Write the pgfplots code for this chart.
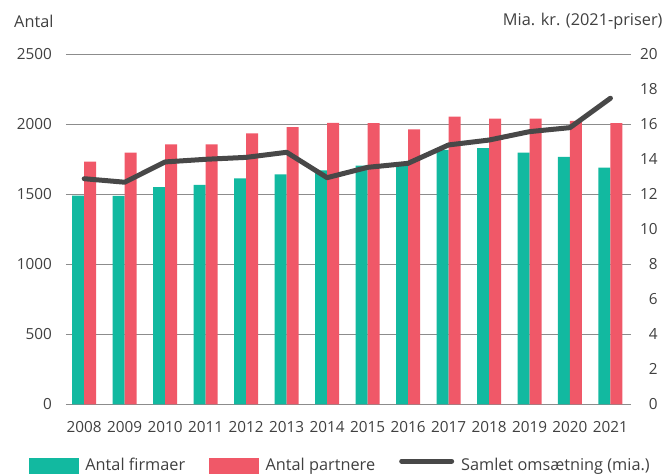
\documentclass[border=0pt]{standalone}
\usepackage{pgfplots}
\pgfplotsset{compat=1.18}
\usepackage{fontspec}
\setmainfont{Open Sans}
\definecolor{cteal}{RGB}{18,185,160}
\definecolor{cred}{RGB}{240,88,104}
\definecolor{cline}{RGB}{72,72,72}
\definecolor{ctext}{RGB}{64,64,64}
\definecolor{cgrid}{RGB}{140,140,140}
\begin{document}
\begin{tikzpicture}[font=\fontsize{16.3bp}{19bp}\selectfont, text=ctext]
\pgfplotsset{
  base/.style={
    scale only axis, width=564.7bp, height=350bp,
    xmin=-0.45, xmax=13.5, ymin=0,
    axis line style={draw=none},
    major tick length=0pt,
    tick style={draw=none},
    tick label style={font=\fontsize{15.3bp}{18bp}\selectfont},
    /pgf/number format/1000 sep={},
    /pgf/number format/assume math mode=true,
    scaled y ticks=false,
  }
}
\begin{axis}[base, ymax=2500, ytick={0,500,...,2500},
  ymajorgrids, grid style={cgrid, line width=0.8bp},
  xtick={0,...,13},
  xticklabels={2008,2009,2010,2011,2012,2013,2014,2015,2016,2017,2018,2019,2020,2021},
  xticklabel style={anchor=north, inner sep=0pt, yshift=-17bp},
  yticklabel style={anchor=east, inner sep=0pt, xshift=-14bp},
  ybar=0pt, bar width=12bp,
]
\addplot[fill=cteal, draw=none] coordinates {
(0,1490) (1,1488) (2,1552) (3,1567) (4,1614) (5,1643) (6,1671)
(7,1705) (8,1702) (9,1817) (10,1829) (11,1798) (12,1767) (13,1690)};
\addplot[fill=cred, draw=none] coordinates {
(0,1734) (1,1798) (2,1857) (3,1857) (4,1936) (5,1979) (6,2010)
(7,2008) (8,1964) (9,2055) (10,2041) (11,2041) (12,2024) (13,2008)};
\coordinate (tl) at (rel axis cs:0,1);
\coordinate (tr) at (rel axis cs:1,1);
\coordinate (bl) at (rel axis cs:0,0);
\end{axis}
\begin{axis}[base, ymax=20, ytick={0,2,...,20},
  xtick=\empty,
  yticklabel pos=right,
  yticklabel style={anchor=east, inner sep=0pt, xshift=27bp},
  legend columns=3,
  legend cell align=left,
  legend style={draw=none, fill=none, inner sep=0pt, outer sep=0pt,
    at={(rel axis cs:-0.0655,-0.174)}, anchor=west,
    /tikz/every odd column/.append style={column sep=5bp},
    /tikz/every even column/.append style={column sep=22bp}},
]
\addlegendimage{legend image code/.code={\fill[cteal] (0bp,-8bp) rectangle (49bp,7bp);}}
\addlegendentry{Antal firmaer}
\addlegendimage{legend image code/.code={\fill[cred] (0bp,-8bp) rectangle (49bp,7bp);}}
\addlegendentry{Antal partnere}
\addlegendimage{legend image code/.code={\draw[cline, line width=5bp, line cap=round] (2.5bp,4bp) -- (52.5bp,4bp);}}
\addlegendentry{Samlet omsætning (mia.)}
\addplot[cline, line width=5bp, line cap=round, line join=round] coordinates {
(0,12.89) (1,12.69) (2,13.85) (3,14.00) (4,14.11) (5,14.40) (6,12.95)
(7,13.54) (8,13.77) (9,14.82) (10,15.10) (11,15.58) (12,15.81) (13,17.49)};
\end{axis}
\node[anchor=west, inner sep=0pt] at ([xshift=-52bp, yshift=33bp]tl) {Antal};
\node[anchor=east, inner sep=0pt] at ([xshift=32bp, yshift=33bp]tr) {Mia. kr. (2021-priser)};
\pgfresetboundingbox
\path ([xshift=-66bp,yshift=-70.7bp]bl) rectangle ([xshift=599bp,yshift=54.3bp]tl);
\end{tikzpicture}
\end{document}
